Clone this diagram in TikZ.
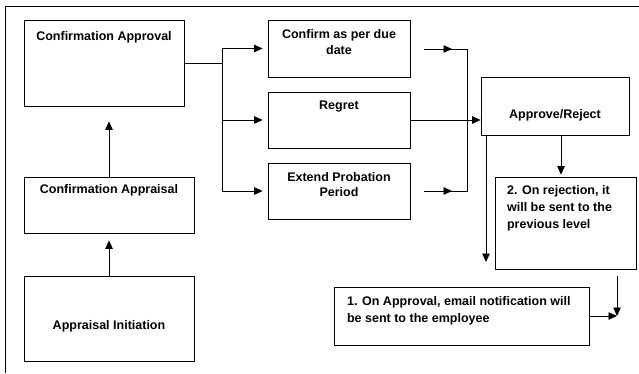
\documentclass[tikz,border=0pt]{standalone}
\usepackage{fontspec}
\setmainfont{Liberation Sans}
\usetikzlibrary{arrows.meta}
\begin{document}
\begin{tikzpicture}[x=1pt,y=-1pt,line width=0.8pt,
				box/.style={draw,inner sep=0pt},
				txt/.style={inner sep=0pt,font=\fontsize{12.5}{15.5}\selectfont\bfseries},
				note/.style={inner sep=0pt,align=left,anchor=north west,
					font=\fontsize{12.5}{17}\selectfont\bfseries},
				arr/.style={-{Triangle[length=8.5pt,width=7.5pt]}}]
\useasboundingbox (0,0) rectangle (639,373);
\draw (5,373) -- (5,6) -- (639,6);
% left column
\node[box,minimum width=160pt,minimum height=86pt] (capp) at (104,63) {};
\node[box,minimum width=170pt,minimum height=56pt] (cappr) at (109,205) {};
\node[box,minimum width=170pt,minimum height=85pt] (ainit) at (109,318.5) {};
\node[txt,anchor=base] (capp-t) at (104,40) {Confirmation Approval};
\node[txt,anchor=base] (cappr-t) at (109,193.3) {Confirmation Appraisal};
\node[txt,anchor=base] (ainit-t) at (109,329) {Appraisal Initiation};
% decisions
\node[box,minimum width=142pt,minimum height=57pt] (cdue) at (339,48.5) {};
\node[box,minimum width=142pt,minimum height=56pt] (regret) at (339,120) {};
\node[box,minimum width=142pt,minimum height=56pt] (extend) at (339,191) {};
\node[txt,align=center,anchor=north] (cdue-t) at (339,29.3) {Confirm as per due\\date};
\node[txt,anchor=base] (regret-t) at (339,109.5) {Regret};
\node[txt,align=center,anchor=north] (extend-t) at (339,171.6) {Extend Probation\\Period};
% right side
\node[box,minimum width=148pt,minimum height=58pt] (apprej) at (555,106) {};
\node[box,minimum width=141pt,minimum height=92pt] (rej) at (565.5,223) {};
\node[box,minimum width=255pt,minimum height=58pt] (appr) at (461.5,316) {};
\node[txt,anchor=base] (apprej-t) at (555,118.3) {Approve/Reject};
\node[note] (rej-t) at (506.7,184.6) {2. On rejection, it\\will be sent to the\\previous level};
\node[note] (appr-t) at (346.7,296) {1. On Approval, email notification will\\be sent to the employee};
% connectors
\draw[arr,shorten >=7pt] (ainit) -- (cappr);
\draw[arr,shorten >=15pt] (cappr.north) -- (cappr.north |- capp.south);
\coordinate (split) at (222,63);
\draw (capp.east) -- (split);
\draw (split |- cdue.west) -- (split |- extend.west);
\draw[arr,shorten >=5pt] (split |- cdue.west) -- (cdue.west);
\draw[arr,shorten >=5pt] (split |- regret.west) -- (regret.west);
\draw[arr,shorten >=5pt] (split |- extend.west) -- (extend.west);
\coordinate (cdue-out) at (424,49);
\coordinate (ext-out) at (424,191);
\coordinate (merge-top) at (467,49);
\coordinate (merge-bot) at (467,191);
\draw (cdue-out) -- (merge-top) -- (merge-bot) -- (ext-out);
\draw[arr] (cdue-out) -- ++(28,0);
\draw[arr] (ext-out) -- ++(28,0);
\draw[arr] (regret.east) -- (regret.east -| apprej.west);
\draw[arr,shorten >=2pt] ([xshift=6pt]apprej.south) -- ([xshift=6pt]apprej.south |- rej.north);
\coordinate (back) at (486,262);
\draw[arr] (apprej.south west -| back) -- (back);
\coordinate (corner) at (617,316);
\coordinate (rej-out) at (617,276);
\draw[arr] (appr.east) -- (corner);
\draw[arr] (rej-out) -- (corner);
\end{tikzpicture}
\end{document}
